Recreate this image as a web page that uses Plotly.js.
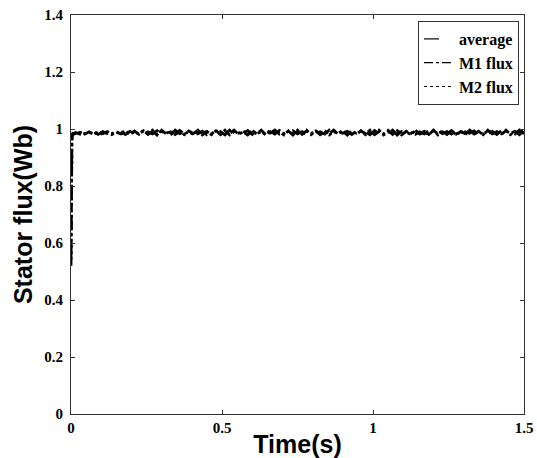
<!DOCTYPE html>
<html>
<head>
<meta charset="utf-8">
<script src="https://cdn.plot.ly/plotly-3.0.1.min.js"></script>
<style>html,body{margin:0;padding:0;background:#fff;}#chart{width:537px;height:458px;}</style>
</head>
<body>
<div id="chart"></div>
<script>
var time = [0, 0.001, 0.003, 0.006,
0.015, 0.030, 0.045, 0.060, 0.075, 0.090, 0.105, 0.120, 0.135, 0.150,
0.165, 0.180, 0.195, 0.210, 0.225, 0.240, 0.255, 0.270, 0.285, 0.300,
0.315, 0.330, 0.345, 0.360, 0.375, 0.390, 0.405, 0.420, 0.435, 0.450,
0.465, 0.480, 0.495, 0.510, 0.525, 0.540, 0.555, 0.570, 0.585, 0.600,
0.615, 0.630, 0.645, 0.660, 0.675, 0.690, 0.705, 0.720, 0.735, 0.750,
0.765, 0.780, 0.795, 0.810, 0.825, 0.840, 0.855, 0.870, 0.885, 0.900,
0.915, 0.930, 0.945, 0.960, 0.975, 0.990, 1.005, 1.020, 1.035, 1.050,
1.065, 1.080, 1.095, 1.110, 1.125, 1.140, 1.155, 1.170, 1.185, 1.200,
1.215, 1.230, 1.245, 1.260, 1.275, 1.290, 1.305, 1.320, 1.335, 1.350,
1.365, 1.380, 1.395, 1.410, 1.425, 1.440, 1.455, 1.470, 1.485, 1.500];

var average = [0.54, 0.80, 0.972, 0.983,
0.988, 0.982, 0.990, 0.983, 0.989, 0.981, 0.991, 0.984, 0.988, 0.982,
0.993, 0.981, 0.992, 0.985, 0.996, 0.980, 0.990, 0.983, 0.994, 0.982,
0.991, 0.979, 0.996, 0.984, 0.990, 0.981, 0.995, 0.983, 0.992, 0.980,
0.994, 0.985, 0.991, 0.979, 0.996, 0.982, 0.990, 0.984, 0.995, 0.981,
0.993, 0.980, 0.992, 0.985, 0.996, 0.982, 0.989, 0.981, 0.994, 0.983,
0.991, 0.979, 0.995, 0.984, 0.990, 0.982, 0.996, 0.980, 0.993, 0.985,
0.992, 0.981, 0.994, 0.983, 0.990, 0.980, 0.995, 0.984, 0.991, 0.982,
0.996, 0.979, 0.992, 0.985, 0.993, 0.981, 0.990, 0.983, 0.995, 0.980,
0.994, 0.984, 0.991, 0.982, 0.996, 0.981, 0.990, 0.985, 0.993, 0.980,
0.995, 0.983, 0.992, 0.981, 0.994, 0.984, 0.990, 0.982, 0.996, 0.983];

var m1Flux = [0.52, 0.78, 0.968, 0.981,
0.985, 0.989, 0.982, 0.990, 0.981, 0.988, 0.983, 0.991, 0.980, 0.989,
0.983, 0.994, 0.980, 0.993, 0.982, 0.995, 0.981, 0.992, 0.979, 0.996,
0.983, 0.990, 0.981, 0.995, 0.980, 0.993, 0.984, 0.996, 0.979, 0.991,
0.982, 0.995, 0.980, 0.992, 0.984, 0.996, 0.981, 0.990, 0.979, 0.994,
0.983, 0.996, 0.980, 0.991, 0.982, 0.995, 0.984, 0.992, 0.979, 0.996,
0.981, 0.993, 0.983, 0.995, 0.980, 0.990, 0.984, 0.996, 0.981, 0.992,
0.979, 0.995, 0.982, 0.993, 0.984, 0.996, 0.980, 0.991, 0.983, 0.995,
0.981, 0.994, 0.979, 0.992, 0.984, 0.996, 0.982, 0.990, 0.980, 0.995,
0.983, 0.993, 0.981, 0.996, 0.979, 0.991, 0.984, 0.995, 0.982, 0.992,
0.980, 0.996, 0.983, 0.990, 0.981, 0.994, 0.984, 0.992, 0.980, 0.995];

var m2Flux = [0.56, 0.82, 0.975, 0.985,
0.983, 0.987, 0.984, 0.989, 0.982, 0.990, 0.981, 0.987, 0.984, 0.991,
0.980, 0.992, 0.983, 0.990, 0.981, 0.994, 0.984, 0.996, 0.980, 0.991,
0.985, 0.993, 0.979, 0.995, 0.983, 0.990, 0.981, 0.996, 0.984, 0.992,
0.980, 0.994, 0.982, 0.996, 0.979, 0.991, 0.985, 0.993, 0.981, 0.995,
0.984, 0.990, 0.980, 0.996, 0.983, 0.992, 0.979, 0.994, 0.982, 0.991,
0.985, 0.996, 0.980, 0.993, 0.982, 0.995, 0.979, 0.991, 0.984, 0.996,
0.981, 0.990, 0.985, 0.994, 0.980, 0.992, 0.983, 0.996, 0.979, 0.990,
0.984, 0.995, 0.982, 0.991, 0.980, 0.994, 0.985, 0.992, 0.981, 0.996,
0.979, 0.990, 0.983, 0.995, 0.982, 0.993, 0.980, 0.996, 0.984, 0.991,
0.981, 0.994, 0.985, 0.990, 0.983, 0.996, 0.980, 0.992, 0.984, 0.990];

var seriesNames = ['average', 'M1 flux', 'M2 flux'];
var xTicks = [0, 0.5, 1, 1.5];
var xTickLabels = ['0', '0.5', '1', '1.5'];
var yTicks = [0, 0.2, 0.4, 0.6, 0.8, 1, 1.2, 1.4];
var yTickLabels = ['0', '0.2', '0.4', '0.6', '0.8', '1', '1.2', '1.4'];

var serif = 'Liberation Serif, Times New Roman, serif';
var sans = 'Liberation Sans, Arial, sans-serif';

function b(s) { return '<b>' + s + '</b>'; }

var seriesData = [average, m1Flux, m2Flux];
var dashes = ['longdash', 'dashdot', 'dot'];

var traces = [];
// data traces (thick to reproduce the dense sampled band)
for (var i = 0; i < 3; i++) {
  traces.push({x: time, y: seriesData[i], name: seriesNames[i], mode: 'lines',
    showlegend: false, legendgroup: 'g' + i,
    line: {color: '#000', width: 2.8, dash: dashes[i]}});
}
// legend entries with thin line samples
for (var j = 0; j < 3; j++) {
  traces.push({x: [null], y: [null], name: b(seriesNames[j]), mode: 'lines',
    showlegend: true, legendgroup: 'g' + j,
    line: {color: '#000', width: 1.2, dash: dashes[j]}});
}

var axisCommon = {
  showgrid: false, zeroline: false, showline: true, linecolor: '#333', linewidth: 1,
  mirror: 'ticks', ticks: 'inside', ticklen: 4, tickcolor: '#333', tickwidth: 1,
  ticklabelstandoff: 4,
  tickfont: {family: serif, size: 15, color: '#000'}
};

var layout = {
  width: 537, height: 458,
  margin: {l: 71, r: 13, t: 15, b: 44},
  paper_bgcolor: '#fff', plot_bgcolor: '#fff',
  showlegend: true,
  legend: {
    x: 0.989, y: 0.985, xanchor: 'right', yanchor: 'top',
    bgcolor: '#fff', bordercolor: '#333', borderwidth: 1,
    font: {family: serif, size: 16, color: '#000'},
    tracegroupgap: 0, itemwidth: 30
  },
  xaxis: Object.assign({}, axisCommon, {
    range: [0, 1.5], tickvals: xTicks, ticktext: xTickLabels.map(b),
    ticklabelstandoff: 0,
    title: {text: b('Time(s)'), font: {family: sans, size: 25, color: '#000'}, standoff: 0}
  }),
  yaxis: Object.assign({}, axisCommon, {
    range: [0, 1.4], tickvals: yTicks, ticktext: yTickLabels.map(b),
    title: {text: b('Stator flux(Wb)'), font: {family: sans, size: 25, color: '#000'}, standoff: 4}
  })
};

Plotly.newPlot('chart', traces, layout, {displayModeBar: false, staticPlot: true});
</script>
</body>
</html>
